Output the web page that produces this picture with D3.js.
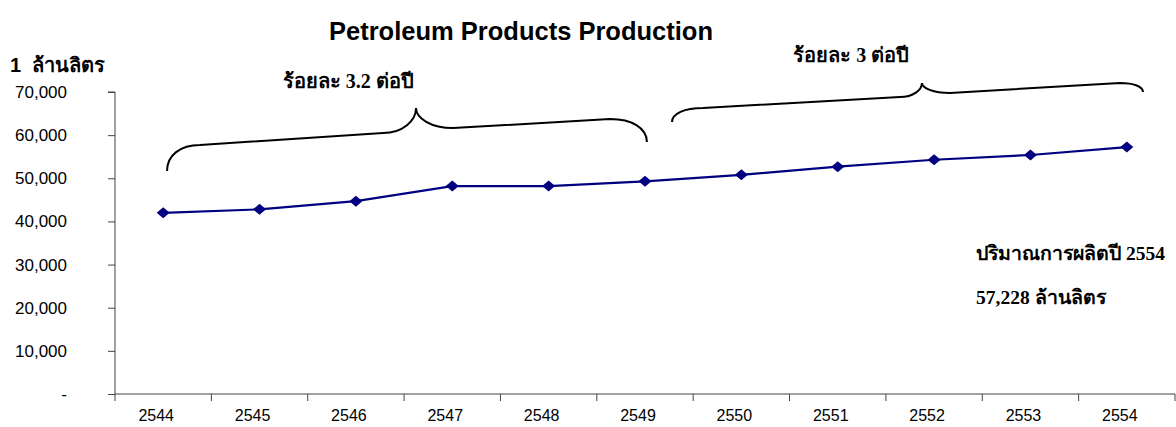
<!DOCTYPE html>
<html><head><meta charset="utf-8">
<script src="https://cdn.jsdelivr.net/npm/d3@7"></script>
<style>
body{margin:0;background:#fff;}
text{font-family:"Liberation Sans",Arial,sans-serif;}
.serif{font-family:"Liberation Serif","Times New Roman",serif;font-weight:bold;}
</style></head>
<body>
<svg id="c" width="1176" height="427"></svg>
<script>
const years = ["2544","2545","2546","2547","2548","2549","2550","2551","2552","2553","2554"];
const production = [42000, 42800, 44700, 48200, 48200, 49300, 50800, 52700, 54300, 55400, 57228];
const yTicks = [0, 10000, 20000, 30000, 40000, 50000, 60000, 70000];
const yTickLabels = ["-", "10,000", "20,000", "30,000", "40,000", "50,000", "60,000", "70,000"];
const titleText = "Petroleum Products Production";
const unitText = "1\u00a0\u00a0ล้านลิตร";
const growthLabels = ["ร้อยละ 3.2 ต่อปี", "ร้อยละ 3 ต่อปี"];
const noteLines = ["ปริมาณการผลิตปี 2554", "57,228 ล้านลิตร"];
// brace key points: [category position, value] for end, shoulder, neck, tip, neck, shoulder, end
const brace1 = [[0.540,51690],[0.882,57720],[2.781,60500],[3.124,66290],[3.508,61650],[5.137,63730],[5.520,58400]];
const brace2 = [[5.780,63050],[6.102,66300],[8.146,68850],[8.374,72090],[8.665,69770],[10.429,72090],[10.668,70000]];
const labelPos = [[2.42,70900],[7.64,76960]];

const svg = d3.select("#c");
const pL = 115, pR = 1175, pT = 92, pB = 394;
const x = d3.scaleBand().domain(years).range([pL, pR]);
const y = d3.scaleLinear().domain([0, 70000]).range([pB, pT]);
const cx = d => x(d) + x.bandwidth()/2;
const xi = v => pL + v * x.bandwidth();

// title
svg.append("text").attr("x", 521).attr("y", 40).attr("text-anchor","middle")
  .attr("font-size", 25.5).attr("font-weight","bold").text(titleText);
svg.append("text").attr("x", 10).attr("y", 72).attr("font-size", 20).attr("font-weight","bold").text(unitText);

// y axis
const yAxis = d3.axisLeft(y).tickValues(yTicks).tickSize(7).tickPadding(41)
  .tickFormat((d,i) => yTickLabels[i]);
const gy = svg.append("g").attr("transform", `translate(${pL},0)`).call(yAxis);
gy.select(".domain").attr("d", `M-7,${pT}H0V${pB}`).attr("stroke","#444");
gy.selectAll(".tick line").attr("stroke","#444");
gy.selectAll(".tick text").attr("font-size", 17).attr("fill","#000")
  .attr("font-family","Liberation Sans, Arial, sans-serif");

// x axis
const xAxis = d3.axisBottom(x).tickSize(0).tickPadding(16);
const gx = svg.append("g").attr("transform", `translate(0,${pB})`).call(xAxis);
gx.select(".domain").attr("d", `M${pL},0H${pR}`).attr("stroke","#444");
gx.selectAll(".tick text").attr("font-size", 16).attr("fill","#000").attr("dx", -7)
  .attr("font-family","Liberation Sans, Arial, sans-serif");
const bounds = years.map(d => x(d)).concat([pR]);
gx.selectAll("line.bt").data(bounds).enter().append("line")
  .attr("x1", d => d).attr("x2", d => d).attr("y1", 0).attr("y2", 7).attr("stroke","#444");

// line
const line = d3.line().x((d,i) => cx(years[i])).y(d => y(d));
svg.append("path").datum(production).attr("d", line).attr("fill","none")
  .attr("stroke","#000080").attr("stroke-width", 2.2);
svg.selectAll("path.mk").data(production).enter().append("path")
  .attr("d", "M0,-5.5L6.5,0L0,5.5L-6.5,0Z").attr("fill","#000080")
  .attr("transform", (d,i) => `translate(${cx(years[i])},${y(d)})`);

// braces
function bracePath(pts) {
  const [L, SL, NL, T, NR, SR, R] = pts.map(p => [xi(p[0]), y(p[1])]);
  return `M${L[0]},${L[1]}` +
    ` C${L[0]},${L[1]-0.6*(L[1]-SL[1])} ${L[0]+0.4*(SL[0]-L[0])},${SL[1]} ${SL[0]},${SL[1]}` +
    ` L${NL[0]},${NL[1]}` +
    ` C${NL[0]+0.6*(T[0]-NL[0])},${NL[1]} ${T[0]},${T[1]+0.5*(NL[1]-T[1])} ${T[0]},${T[1]}` +
    ` C${T[0]},${T[1]+0.5*(NR[1]-T[1])} ${T[0]+0.4*(NR[0]-T[0])},${NR[1]} ${NR[0]},${NR[1]}` +
    ` L${SR[0]},${SR[1]}` +
    ` C${SR[0]+0.6*(R[0]-SR[0])},${SR[1]} ${R[0]},${R[1]-0.6*(R[1]-SR[1])} ${R[0]},${R[1]}`;
}
[brace1, brace2].forEach((b, i) => {
  svg.append("path").attr("d", bracePath(b))
    .attr("fill","none").attr("stroke","#000").attr("stroke-width", 2);
  svg.append("text").attr("class","serif").attr("x", xi(labelPos[i][0])).attr("y", y(labelPos[i][1]))
    .attr("text-anchor","middle").attr("font-size", 20).text(growthLabels[i]);
});

// note
svg.selectAll("text.note").data(noteLines).enter().append("text").attr("class","serif note")
  .attr("x", 976).attr("y", (d,i) => 260 + i*44).attr("font-size", 19.5).text(d => d);
</script>
</body></html>
